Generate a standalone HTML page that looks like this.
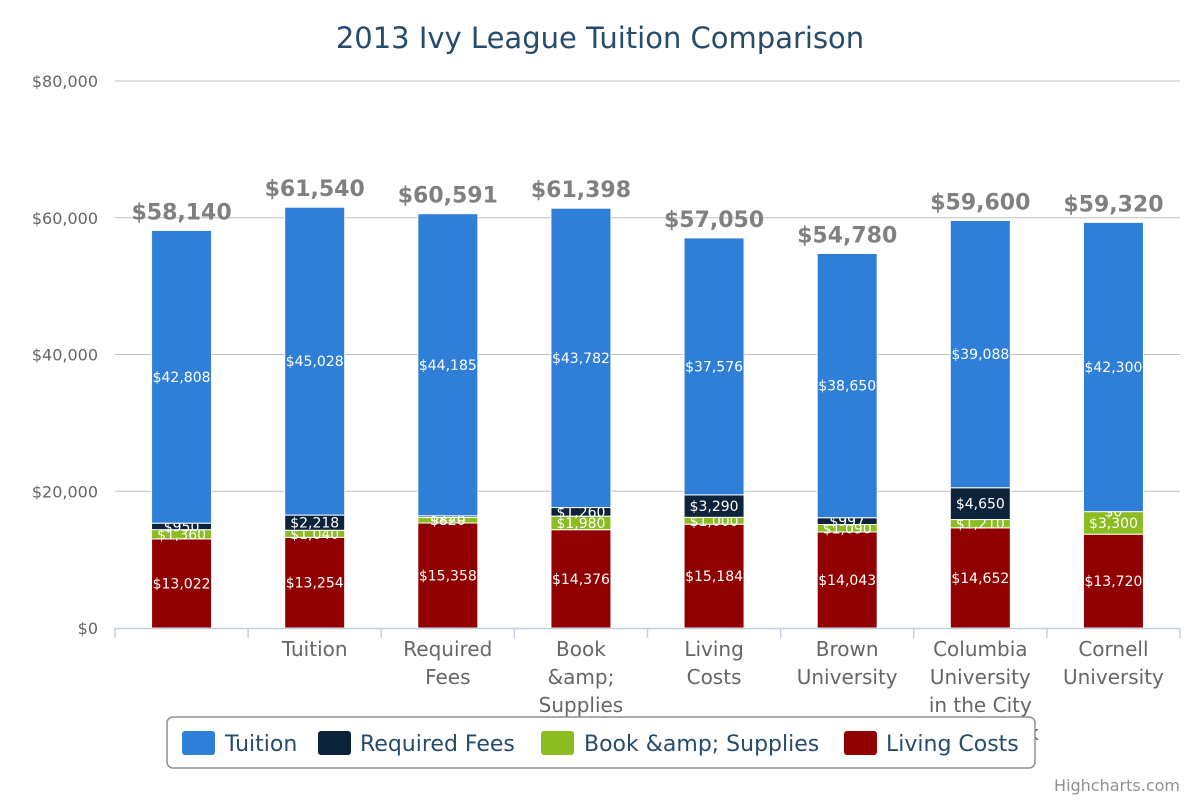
<!DOCTYPE html>
<html><head><meta charset="utf-8"><style>
body{margin:0;background:#fff;}
svg text{font-family:"DejaVu Sans","Liberation Sans",sans-serif;}
</style></head><body>
<svg id="chart" width="1200" height="800" xmlns="http://www.w3.org/2000/svg">
<rect width="1200" height="800" fill="#fff"/>
<text x="600" y="48" text-anchor="middle" font-size="29" fill="#274b6d">2013 Ivy League Tuition Comparison</text>
<g id="grid"></g>
<g id="bars"></g>
<g id="xaxis"></g>
<g>
<rect x="167" y="717" width="868" height="51" rx="6" fill="#fff" stroke="#909090" stroke-width="1.5"/>
<g><rect x="182" y="731" width="33" height="24" rx="3" fill="#2f7ed8"/><text x="225" y="751" font-size="22" fill="#274b6d">Tuition</text></g>
<g><rect x="318" y="731" width="33" height="24" rx="3" fill="#0d233a"/><text x="360" y="751" font-size="22" fill="#274b6d">Required Fees</text></g>
<g><rect x="541" y="731" width="33" height="24" rx="3" fill="#8bbc21"/><text x="584" y="751" font-size="22" fill="#274b6d">Book &amp;amp; Supplies</text></g>
<g><rect x="844" y="731" width="33" height="24" rx="3" fill="#910000"/><text x="886" y="751" font-size="22" fill="#274b6d">Living Costs</text></g>
</g>
<text x="1180" y="791" text-anchor="end" font-size="16" fill="#909090">Highcharts.com</text>
</svg>
<script>
const categories=["","Tuition","Required Fees","Book &amp; Supplies","Living Costs","Brown University","Columbia University in the City of New York","Cornell University"];
const tuition=[42808,45028,44185,43782,37576,38650,39088,42300];
const requiredFees=[950,2218,228,1260,3290,997,4650,0];
const books=[1360,1040,820,1980,1000,1090,1210,3300];
const living=[13022,13254,15358,14376,15184,14043,14652,13720];
const yTicks=[0,20000,40000,60000,80000];
const NS="http://www.w3.org/2000/svg";
const L=115,R=1180,Y0=628,Ytop=81,YMAX=80000;
const y=v=>Y0-(v/YMAX)*(Y0-Ytop);
const cw=(R-L)/categories.length;
const xc=i=>L+cw*(i+0.5);
const fmt=v=>"$"+v.toLocaleString("en-US");
function mk(tag,a,p,txt){const e=document.createElementNS(NS,tag);for(const k in a)e.setAttribute(k,a[k]);if(txt!==undefined)e.textContent=txt;p.appendChild(e);return e;}
const grid=document.getElementById('grid');
yTicks.forEach(t=>{
  if(t>0){const g=mk('line',{x1:L,x2:R,y1:y(t),y2:y(t),stroke:'#C0C0C0','stroke-width':1},grid);
  
  }
  const tl=mk('text',{x:98,y:y(t)+6,'text-anchor':'end','font-size':16,fill:'#666'},grid,fmt(t));
  
  
});
const bars=document.getElementById('bars');
const series=[[living,'#910000','living'],[books,'#8bbc21','books'],[requiredFees,'#0d233a','fees'],[tuition,'#2f7ed8','tuition']];
const bw=60;
categories.forEach((c,i)=>{
  let base=0;
  series.forEach(([arr,col,nm])=>{
    const v=arr[i];const y1=y(base+v),y2=y(base);
    const r=mk('rect',{x:xc(i)-bw/2,y:y1,width:bw,height:Math.max(0,y2-y1),fill:col,stroke:'#fff','stroke-width':1},bars);
    
    
    const t=mk('text',{x:xc(i),y:(y1+y2)/2+5,'text-anchor':'middle','font-size':14,fill:'#fff'},bars,fmt(v));
    
    
    base+=v;
  });
  const st=mk('text',{x:xc(i),y:y(base)-11,'text-anchor':'middle','font-size':22,'font-weight':'bold',fill:'#808080'},bars,fmt(base));
  
  
});
const xa=document.getElementById('xaxis');
mk('line',{x1:L,x2:R,y1:Y0+0.5,y2:Y0+0.5,stroke:'#C0D0E0','stroke-width':1.5},xa);
for(let i=0;i<=categories.length;i++){mk('line',{x1:L+cw*i,x2:L+cw*i,y1:Y0,y2:Y0+10,stroke:'#C0D0E0','stroke-width':1.5},xa);}
categories.forEach((c,i)=>{
  const t=mk('text',{x:xc(i),y:656,'text-anchor':'middle','font-size':20,fill:'#666'},xa);
  
  
  const words=c.split(' ').filter(w=>w);let line='',n=0;
  const lines=[];
  words.forEach(w=>{const test=line?line+' '+w:w;
    const tmp=mk('text',{'font-size':20},xa,test);const wd=tmp.getComputedTextLength();xa.removeChild(tmp);
    if(wd>118&&line){lines.push(line);line=w;}else line=test;});
  if(line)lines.push(line);
  lines.forEach((l,k)=>mk('tspan',{x:xc(i),dy:k?28:0},t,l));
});
</script>
</body></html>
